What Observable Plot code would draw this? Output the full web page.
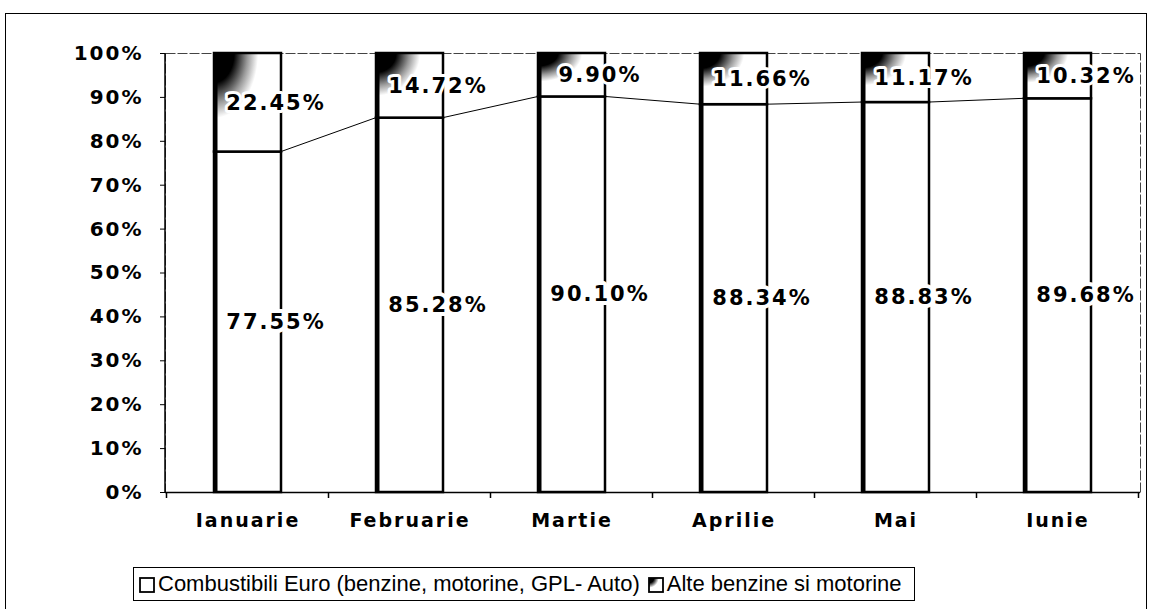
<!DOCTYPE html>
<html>
<head>
<meta charset="utf-8">
<script src="https://cdn.jsdelivr.net/npm/d3@7"></script>
<script src="https://cdn.jsdelivr.net/npm/@observablehq/plot@0.6"></script>
<style>
  html, body { margin: 0; padding: 0; background: #fff; }
  #wrap { position: relative; width: 1150px; height: 609px; overflow: hidden; background: #fff; }
  #frame { position: absolute; left: 5px; top: 13px; width: 1142px; height: 640px; border: 1.5px solid #000; box-sizing: border-box; }
  #chart { position: absolute; left: 0; top: 0; }
  #legend { position: absolute; left: 133px; top: 567px; width: 782px; height: 34px; border: 1.5px solid #000; box-sizing: border-box;
            font-family: "Liberation Sans", Arial, sans-serif; font-size: 22px; display: flex; align-items: center; padding-left: 5px; white-space: nowrap; }
  #legend .sw { display: inline-block; margin-right: 3px; vertical-align: middle; }
</style>
</head>
<body>
<div id="wrap">
  <div id="frame"></div>
  <div id="chart"></div>
  <div id="legend"></div>
</div>
<script>
// ---- data ----
const months = ["Ianuarie", "Februarie", "Martie", "Aprilie", "Mai", "Iunie"];
const euro = [77.55, 85.28, 90.10, 88.34, 88.83, 89.68];
const alte = [22.45, 14.72, 9.90, 11.66, 11.17, 10.32];
const yTicks = [0, 10, 20, 30, 40, 50, 60, 70, 80, 90, 100];
const seriesNames = ["Combustibili Euro (benzine, motorine, GPL- Auto)", "Alte benzine si motorine"];

const rows = months.map((m, i) => ({month: m, euro: euro[i], alte: alte[i]}));

const boldFont = "'DejaVu Sans', Verdana, sans-serif";

// custom mark: boundary ticks under x axis + series lines between bars
function extras(index, scales, values, dims) {
  const x = scales.x, y = scales.y;
  const step = x.step(), bw = x.bandwidth();
  const g = d3.create("svg:g");
  const y0 = dims.height - dims.marginBottom;
  const bounds = months.map(m => x(m) - (step - bw) / 2);
  bounds.push(x(months[months.length - 1]) + bw + (step - bw) / 2);
  g.selectAll("line.tk").data(bounds).join("line")
    .attr("x1", d => d).attr("x2", d => d)
    .attr("y1", y0).attr("y2", y0 + 6)
    .attr("stroke", "#000").attr("stroke-width", 1.5);
  const segs = d3.pairs(rows);
  g.selectAll("line.sl").data(segs).join("line")
    .attr("x1", ([a]) => x(a.month) + bw)
    .attr("y1", ([a]) => y(a.euro))
    .attr("x2", ([, b]) => x(b.month))
    .attr("y2", ([, b]) => y(b.euro))
    .attr("stroke", "#000").attr("stroke-width", 1);
  return g.node();
}

const chart = Plot.plot({
  width: 1150,
  height: 550,
  marginLeft: 165,
  marginRight: 10,
  marginTop: 53,
  marginBottom: 58,
  style: {fontFamily: boldFont, fontWeight: "bold", color: "#000", background: "transparent", overflow: "visible"},
  x: {domain: months, type: "band", paddingInner: 0.588, paddingOuter: 0.294, label: null},
  y: {domain: [0, 100], label: null},
  marks: [
    Plot.frame({stroke: "#444", strokeWidth: 1, strokeDasharray: "10,2"}),
    // lower segment (Euro)
    Plot.barY(rows, {x: "month", y1: 0, y2: "euro", fill: "white", stroke: "#000", strokeWidth: 2.5}),
    // upper segment (Alte)
    Plot.barY(rows, {x: "month", y1: "euro", y2: d => d.euro + d.alte, fill: "url(#cornerGrad)", stroke: "#000", strokeWidth: 2.5}),
    // thick left edge of each bar
    Plot.barY(rows, {x: "month", y1: 0, y2: d => d.euro + d.alte, fill: "#000", insetRight: 63.5}),
    extras,
    Plot.text(rows, {x: "month", y: d => d.euro / 2, text: d => d.euro.toFixed(2) + "%", dx: 28, fontSize: 21, fontWeight: "bold",
      fill: "#000", stroke: "white", strokeWidth: 8, paintOrder: "stroke"}),
    Plot.text(rows, {x: "month", y: d => d.euro + d.alte / 2, text: d => d.alte.toFixed(2) + "%", dx: 28, fontSize: 21, fontWeight: "bold",
      fill: "#000", stroke: "white", strokeWidth: 6, paintOrder: "stroke"}),
    Plot.axisY({ticks: yTicks, tickFormat: d => d + "%", tickSize: 5, tickPadding: 17, fontSize: 20, fontWeight: "bold", stroke: "#000"}),
    Plot.axisX({tickSize: 0, tickPadding: 21, fontSize: 19, fontWeight: "bold"}),
    Plot.ruleY([0], {stroke: "#000", strokeWidth: 1.5}),
  ]
});

// left axis line (solid)
const svg = d3.select(chart);
svg.append("line").attr("x1", 165).attr("x2", 165).attr("y1", 53).attr("y2", 492).attr("stroke", "#000").attr("stroke-width", 1.5);
svg.selectAll("text").style("letter-spacing", "2px").style("font-weight", "bold");

// gradient definitions
const defs = svg.insert("defs", ":first-child");
const rg = defs.append("radialGradient").attr("id", "cornerGrad").attr("cx", 0).attr("cy", 0).attr("r", 1).attr("fx", 0).attr("fy", 0);
rg.append("stop").attr("offset", 0).attr("stop-color", "#000");
rg.append("stop").attr("offset", 0.3).attr("stop-color", "#000");
rg.append("stop").attr("offset", 0.5).attr("stop-color", "#999");
rg.append("stop").attr("offset", 0.66).attr("stop-color", "#fff");
rg.append("stop").attr("offset", 1).attr("stop-color", "#fff");

document.getElementById("chart").appendChild(chart);

// legend
const legend = d3.select("#legend");
seriesNames.forEach((name, i) => {
  const item = legend.append("span").style("margin-right", "8px");
  const sw = item.append("svg").attr("class", "sw").attr("width", 16).attr("height", 16);
  if (i === 1) {
    const d2 = sw.append("defs").append("radialGradient").attr("id", "lgGrad").attr("cx", 0).attr("cy", 0).attr("r", 1).attr("fx", 0).attr("fy", 0);
    d2.append("stop").attr("offset", 0).attr("stop-color", "#000");
    d2.append("stop").attr("offset", 0.35).attr("stop-color", "#000");
    d2.append("stop").attr("offset", 0.7).attr("stop-color", "#fff");
  }
  sw.append("rect").attr("x", 1).attr("y", 1).attr("width", 14).attr("height", 14)
    .attr("fill", i === 0 ? "#fff" : "url(#lgGrad)").attr("stroke", "#000").attr("stroke-width", 1.8);
  item.append("span").text(name);
});
</script>
</body>
</html>
